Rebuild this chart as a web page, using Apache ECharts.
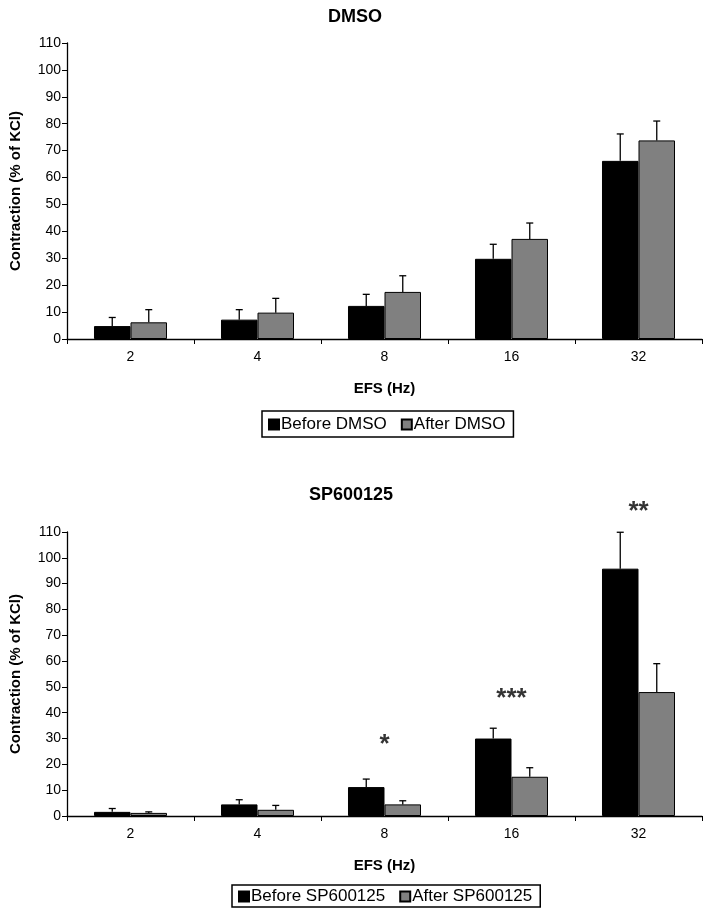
<!DOCTYPE html>
<html>
<head>
<meta charset="utf-8">
<script src="https://cdn.jsdelivr.net/npm/echarts@6/dist/echarts.min.js"></script>
<style>
html,body{margin:0;padding:0;background:#fff;}
#chart{width:709px;height:919px;}
</style>
</head>
<body>
<div id="chart"></div>
<script>
// ---- data ----
const categories = ['2', '4', '8', '16', '32'];
const yTicks = [0, 10, 20, 30, 40, 50, 60, 70, 80, 90, 100, 110];

// Top panel: DMSO
const beforeDMSO = [4.8, 7.2, 12.3, 29.8, 66.2];
const beforeDMSOErrTop = [8.0, 10.9, 16.6, 35.2, 76.2];
const afterDMSO = [6.2, 9.8, 17.5, 37.2, 73.8];
const afterDMSOErrTop = [10.9, 15.1, 23.5, 43.1, 81.0];

// Bottom panel: SP600125
const beforeSP = [1.6, 4.5, 11.2, 30.0, 95.8];
const beforeSPErrTop = [2.9, 6.3, 14.3, 34.0, 109.9];
const afterSP = [1.2, 2.4, 4.5, 15.2, 48.0];
const afterSPErrTop = [1.6, 4.1, 5.9, 18.7, 59.0];

// significance marks (category index, level, text)
const sigCats = [2, 3, 4];
const sigLevels = [27.5, 45.5, 118.0];
const sigTexts = ['*', '***', '**'];

// ---- chart ----
const FONT = "'Liberation Sans', Arial, sans-serif";
const NARROW = "'Liberation Sans Narrow', 'Liberation Sans', Arial, sans-serif";
const BARW = 0.2875;
const GRAY = '#808080';

function errSeries(name, means, tops, side, ax) {
  return {
    type: 'custom',
    name: name + ' err',
    xAxisIndex: ax, yAxisIndex: ax,
    z: 5,
    clip: false,
    silent: true,
    encode: { x: 0, y: [1, 2] },
    data: means.map((m, i) => [i, m, tops[i]]),
    renderItem: function (params, api) {
      const c = api.value(0);
      const base = api.coord([c, api.value(1)]);
      const top = api.coord([c, api.value(2)]);
      const band = api.size([1, 0])[0];
      const x = base[0] + side * band * BARW / 2;
      const cap = 3.5;
      const st = { stroke: '#000', lineWidth: 1.3 };
      return {
        type: 'group',
        children: [
          { type: 'line', shape: { x1: x, y1: base[1], x2: x, y2: top[1] }, style: st },
          { type: 'line', shape: { x1: x - cap, y1: top[1], x2: x + cap, y2: top[1] }, style: st }
        ]
      };
    }
  };
}

function barSeries(name, vals, color, ax) {
  return {
    type: 'bar', name: name, data: vals,
    xAxisIndex: ax, yAxisIndex: ax,
    barWidth: (BARW * 100) + '%', barGap: '0%',
    itemStyle: { color: color, borderColor: '#000', borderWidth: 1 },
    z: 2
  };
}

function xAxisDef(ax) {
  return {
    type: 'category', gridIndex: ax, data: categories,
    name: 'EFS (Hz)', nameLocation: 'middle', nameGap: 42,
    nameTextStyle: { fontFamily: FONT, fontWeight: 'bold', fontSize: 15, color: '#000' },
    axisLine: { lineStyle: { color: '#000', width: 1.3 } },
    axisTick: { show: true, length: 5, lineStyle: { color: '#000' } },
    axisLabel: { fontFamily: NARROW, fontSize: 14, color: '#000', margin: 11 },
    splitLine: { show: false }
  };
}

function yAxisDef(ax) {
  return {
    type: 'value', gridIndex: ax, min: 0, max: 110, interval: 10,
    name: 'Contraction (% of KCl)', nameLocation: 'middle', nameGap: 44,
    nameTextStyle: { fontFamily: FONT, fontWeight: 'bold', fontSize: 15, color: '#000' },
    axisLine: { show: true, lineStyle: { color: '#000', width: 1.3 } },
    axisTick: { show: true, length: 5, lineStyle: { color: '#000' } },
    axisLabel: { fontFamily: NARROW, fontSize: 14, color: '#000', margin: 6,
      formatter: v => yTicks.indexOf(v) >= 0 ? String(v) : '' },
    splitLine: { show: false }
  };
}

const legendText = { fontFamily: FONT, fontSize: 17, color: '#000', padding: [0, 0, 0, -3] };

const chart = echarts.init(document.getElementById('chart'), null, { renderer: 'canvas' });
chart.setOption({
  animation: false,
  backgroundColor: '#fff',
  title: [
    { text: 'DMSO', left: 350, top: 3, textAlign: 'center',
      textStyle: { fontFamily: FONT, fontWeight: 'bold', fontSize: 18, color: '#000' } },
    { text: 'SP600125', left: 346, top: 481, textAlign: 'center',
      textStyle: { fontFamily: FONT, fontWeight: 'bold', fontSize: 18, color: '#000' } }
  ],
  grid: [
    { left: 66, right: 7, top: 43, bottom: 580 },
    { left: 66, right: 7, top: 532, bottom: 103 }
  ],
  legend: [
    { data: ['Before DMSO', 'After DMSO'], left: 262, top: 411,
      borderColor: '#000', borderWidth: 1.5, padding: [5, 8, 4, 6], itemGap: 14,
      itemWidth: 10, itemHeight: 10, icon: 'rect', textStyle: legendText },
    { data: ['Before SP600125', 'After SP600125'], left: 232, top: 885,
      borderColor: '#000', borderWidth: 1.5, padding: [3, 8, 2, 6], itemGap: 14,
      itemWidth: 10, itemHeight: 10, icon: 'rect', textStyle: legendText }
  ],
  xAxis: [xAxisDef(0), xAxisDef(1)],
  yAxis: [yAxisDef(0), yAxisDef(1)],
  series: [
    barSeries('Before DMSO', beforeDMSO, '#000', 0),
    barSeries('After DMSO', afterDMSO, GRAY, 0),
    errSeries('Before DMSO', beforeDMSO, beforeDMSOErrTop, -1, 0),
    errSeries('After DMSO', afterDMSO, afterDMSOErrTop, 1, 0),
    barSeries('Before SP600125', beforeSP, '#000', 1),
    barSeries('After SP600125', afterSP, GRAY, 1),
    errSeries('Before SP600125', beforeSP, beforeSPErrTop, -1, 1),
    errSeries('After SP600125', afterSP, afterSPErrTop, 1, 1),
    {
      type: 'scatter', xAxisIndex: 1, yAxisIndex: 1, symbolSize: 0, silent: true, clip: false,
      data: sigCats.map((c, i) => ({ value: [c, sigLevels[i]], label: { formatter: sigTexts[i] } })),
      label: { show: true, position: 'inside', fontFamily: FONT, fontWeight: 'bold', fontSize: 26,
        color: '#000', textBorderWidth: 0 }
    }
  ]
});
</script>
</body>
</html>
